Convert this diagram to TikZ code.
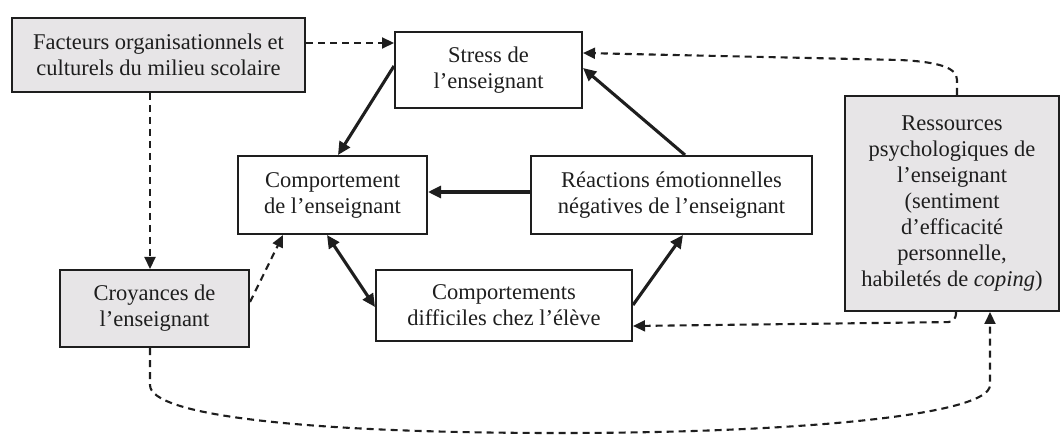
\documentclass[tikz,border=0pt]{standalone}
\usepackage{fontspec}
\setmainfont{Liberation Serif}
\usetikzlibrary{arrows.meta}
\definecolor{boxgrey}{HTML}{E7E5E7}
\definecolor{ink}{HTML}{1E1E1E}
\tikzset{
  box/.style={draw=ink, line width=2pt, inner sep=0pt, align=center,
    text=ink, font=\fontsize{22.5}{26}\selectfont},
  greybox/.style={box, fill=boxgrey},
  solidarrow/.style={draw=ink, line width=3.1pt, -{Triangle[length=13pt,width=12pt]}},
  bothsolid/.style={draw=ink, line width=3.1pt, {Triangle[length=13pt,width=12pt]}-{Triangle[length=13pt,width=12pt]}},
  dasharrow/.style={draw=ink, line width=2.1pt, dash pattern=on 7pt off 5pt, -{Triangle[length=12pt,width=11pt]}}
}
\begin{document}
\begin{tikzpicture}[x=1pt,y=-1pt]
\useasboundingbox (0,0) rectangle (1062,443);

\node[greybox, minimum width=293pt, minimum height=74pt] (F) at (158.5,55)
  {Facteurs organisationnels et\\culturels du milieu scolaire};
\node[box, minimum width=187pt, minimum height=76pt] (S) at (488.5,70)
  {Stress de\\l’enseignant};
\node[box, minimum width=189pt, minimum height=78pt] (C) at (332.5,195)
  {Comportement\\de l’enseignant};
\node[box, minimum width=281pt, minimum height=78pt] (R) at (671.5,195)
  {Réactions émotionnelles\\négatives de l’enseignant};
\node[greybox, minimum width=189pt, minimum height=77pt] (Cr) at (154.5,308.5)
  {Croyances de\\l’enseignant};
\node[box, minimum width=256pt, minimum height=71pt] (D) at (504,305.5)
  {Comportements\\difficiles chez l’élève};
\node[greybox, minimum width=214pt, minimum height=215pt] (Re) at (952,203.5)
  {Ressources\\psychologiques de\\l’enseignant\\(sentiment\\d’efficacité\\personnelle,\\habiletés de \textit{coping})};

% solid arrows
\draw[solidarrow] ([yshift=4pt]S.west) -- ([xshift=5.5pt]C.north);
\draw[solidarrow] ([xshift=13.5pt]R.north) -- ([yshift=2pt]S.east);
\draw[solidarrow] ([yshift=3pt]R.west) -- ([yshift=3pt]C.east);
\draw[bothsolid] ([xshift=-5.5pt]C.south) -- ([yshift=-1.5pt]D.west);
\draw[solidarrow] ([yshift=0.5pt]D.east) -- ([xshift=11.5pt]R.south);

% dashed arrows
\draw[dasharrow] ([yshift=12pt]F.east) -- ([yshift=27pt]S.west);
\draw[dasharrow] ([xshift=-8.5pt]F.south) -- ([xshift=-4.5pt]Cr.north);
\draw[dasharrow] ([yshift=6.5pt]Cr.east) -- ([xshift=-49.5pt]C.south);
\draw[dasharrow] ([xshift=-4.5pt]Cr.south) -- (150,385)
  .. controls (150,415) and (300,433) .. (560,433)
  .. controls (800,433) and (990,415) .. (990,385)
  -- ([xshift=38pt]Re.south);
\draw[dasharrow, rounded corners=8pt] ([xshift=4pt]Re.south) -- (956,322) -- ([yshift=-20.5pt]D.east);
\draw[dasharrow] ([xshift=5pt]Re.north) -- (957,80)
  .. controls (957,68) and (940,62) .. (900,60) -- ([yshift=17pt]S.east);
\end{tikzpicture}
\end{document}
